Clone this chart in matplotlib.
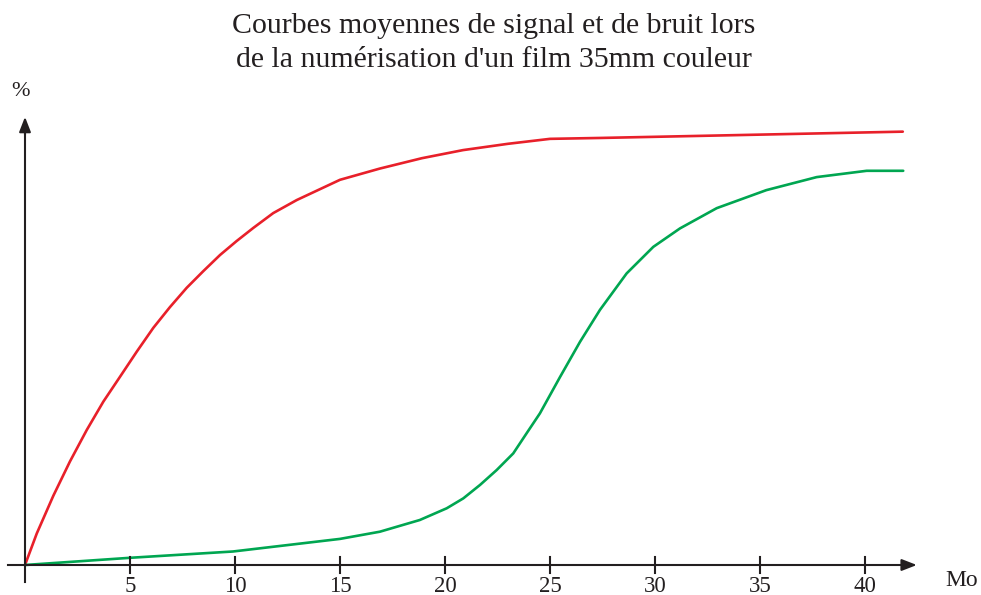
import matplotlib.pyplot as plt
import numpy as np

plt.rcParams['font.family'] = ['Liberation Serif', 'DejaVu Serif']

# valeurs (x en Mo, y en %)
x_signal = [0, 0.56, 1.35, 2.14, 2.94, 3.73, 4.52, 5.32, 6.11, 6.90, 7.70, 8.49, 9.29, 10.08, 10.87,
            11.82, 12.94, 15.0, 16.9, 18.9, 20.86, 23.0, 25.0, 27.4, 41.8]
y_signal = [0, 7.0, 15.4, 23.0, 30.0, 36.3, 41.8, 47.4, 52.7, 57.3, 61.6, 65.3, 68.9, 72.0, 74.9,
            78.2, 81.1, 85.6, 88.1, 90.4, 92.2, 93.6, 94.7, 94.9, 96.3]

x_bruit = [0, 5, 9.9, 15, 16.9, 18.8, 20.08, 20.87, 21.67, 22.46, 23.25, 23.89, 24.52, 25.48, 26.43,
           27.38, 28.65, 29.92, 31.19, 32.94, 35.3, 37.7, 40.08, 41.82]
y_bruit = [0, 1.6, 3.0, 5.8, 7.4, 10.0, 12.6, 14.8, 17.8, 21.1, 24.8, 29.3, 33.7, 41.8, 49.6,
           56.7, 64.8, 70.7, 74.8, 79.3, 83.3, 86.2, 87.6, 87.6]

ticks = [5, 10, 15, 20, 25, 30, 35, 40]

fig = plt.figure(figsize=(9.81, 5.95), dpi=100)
ax = fig.add_axes([0, 0, 1, 1])
# 21 px par Mo, 4.5 px par %
ax.set_xlim(-25 / 21, (981 - 25) / 21)
ax.set_ylim(-(595 - 565) / 4.5, 565 / 4.5)
ax.axis('off')

ax.plot(x_signal, y_signal, color='#e8202a', lw=1.9, solid_capstyle='round', solid_joinstyle='round')
ax.plot(x_bruit, y_bruit, color='#00a651', lw=1.9, solid_capstyle='round', solid_joinstyle='round')

# axes avec flèches
ax.plot([-0.8, 42.0], [0, 0], color='#231f20', lw=1.5)
ax.plot([0, 0], [-3.8, 97.0], color='#231f20', lw=1.5)
ax.annotate('', xy=(42.6, 0), xytext=(41.6, 0),
            arrowprops=dict(arrowstyle='-|>,head_length=0.9,head_width=0.35', color='#231f20', lw=1.5))
ax.annotate('', xy=(0, 100.2), xytext=(0, 95),
            arrowprops=dict(arrowstyle='-|>,head_length=0.9,head_width=0.35', color='#231f20', lw=1.5))

for t in ticks:
    ax.plot([t, t], [-1.8, 1.8], color='#231f20', lw=1.5)
    ax.text(t, -2.4, str(t), ha='center', va='top', fontsize=16.5, color='#231f20')

ax.text(-0.2, 103.0, '%', ha='center', va='bottom', fontsize=16, color='#231f20')
ax.text(44.6, -5.8, 'Mo', ha='center', va='bottom', fontsize=17, color='#231f20')

fig.text(0.503, 1 - 33 / 595, "Courbes moyennes de signal et de bruit lors",
         ha='center', va='baseline', fontsize=21.5, color='#231f20')
fig.text(0.503, 1 - 67 / 595, "de la numérisation d'un film 35mm couleur",
         ha='center', va='baseline', fontsize=21.5, color='#231f20')

fig.savefig('out.png', dpi=100)
